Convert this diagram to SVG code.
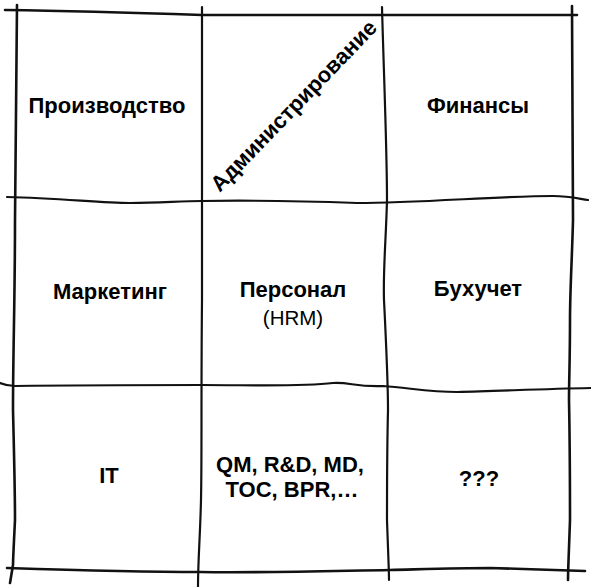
<svg xmlns="http://www.w3.org/2000/svg" width="591" height="587" viewBox="0 0 591 587">
<style>
.ln{fill:none;stroke:#111;stroke-width:2.2;stroke-linecap:round;stroke-linejoin:round}
.b{font-family:"Liberation Sans",Arial,sans-serif;font-weight:bold;font-size:22px;fill:#000;text-anchor:middle}
.r{font-family:"Liberation Sans",Arial,sans-serif;font-size:20.5px;fill:#000;text-anchor:middle}
</style>
<rect width="591" height="587" fill="#fff"/>
<g id="connectors">
<path class="ln" d="M5,10 C70,11 140,13 202,15 L577,15" style="stroke-width:2.6"/>
<path class="ln" d="M7,197 C60,198 100,203 130,203 C160,203 180,201 202,201 C260,200 300,201 357,203 C420,203 500,196 553,196 C570,196 580,199 588,200"/>
<path class="ln" d="M0,383 C5,385 10,386 15,386 C80,385 150,385 202,385 C250,385 300,387 333,383 C350,382 355,387 383,386 C410,388 430,392 457,392 C500,391 540,389 591,388"/>
<path class="ln" d="M7,568 C70,570 140,572 200,572 C260,573 330,571 390,570 C430,569 460,568 490,568 C530,569 560,570 585,571" style="stroke-width:2.6"/>
<path class="ln" d="M17,5 C16,80 15,150 15,220 C15,300 13,350 13,410 C14,450 15,500 15,520 C14,540 13,560 13,565 L10,583" style="stroke-width:2.6"/>
<path class="ln" d="M202,7 C202,100 202,200 202,300 C201,400 202,450 201,500 C200,540 198,560 198,587"/>
<path class="ln" d="M382,7 C384,80 387,150 387,200 C386,240 383,270 384,300 C386,340 388,380 388,410 C387,450 387,500 387,520 C388,550 389,570 389,580"/>
<path class="ln" d="M572,6 C572,80 573,150 573,220 C572,260 570,290 570,320 C570,360 569,380 569,400 C570,450 570,500 570,520 C569,550 568,570 568,580" style="stroke-width:2.6"/>
</g>
<g id="n1"><text class="b" x="107" y="113">Производство</text></g>
<g id="n2"><text class="b" x="0" y="0" transform="translate(299,111) rotate(-46)">Администрирование</text></g>
<g id="n3"><text class="b" x="478" y="113">Финансы</text></g>
<g id="n4"><text class="b" x="110" y="299">Маркетинг</text></g>
<g id="n5"><text class="b" x="293" y="297">Персонал</text><text class="r" x="293" y="325">(HRM)</text></g>
<g id="n6"><text class="b" x="478" y="296">Бухучет</text></g>
<g id="n7"><text class="b" x="109" y="483">IT</text></g>
<g id="n8"><text class="b" x="290" y="472">QM, R&amp;D, MD,</text><text class="b" x="292" y="497">TOC, BPR,…</text></g>
<g id="n9"><text class="b" x="479" y="486">???</text></g>
</svg>
